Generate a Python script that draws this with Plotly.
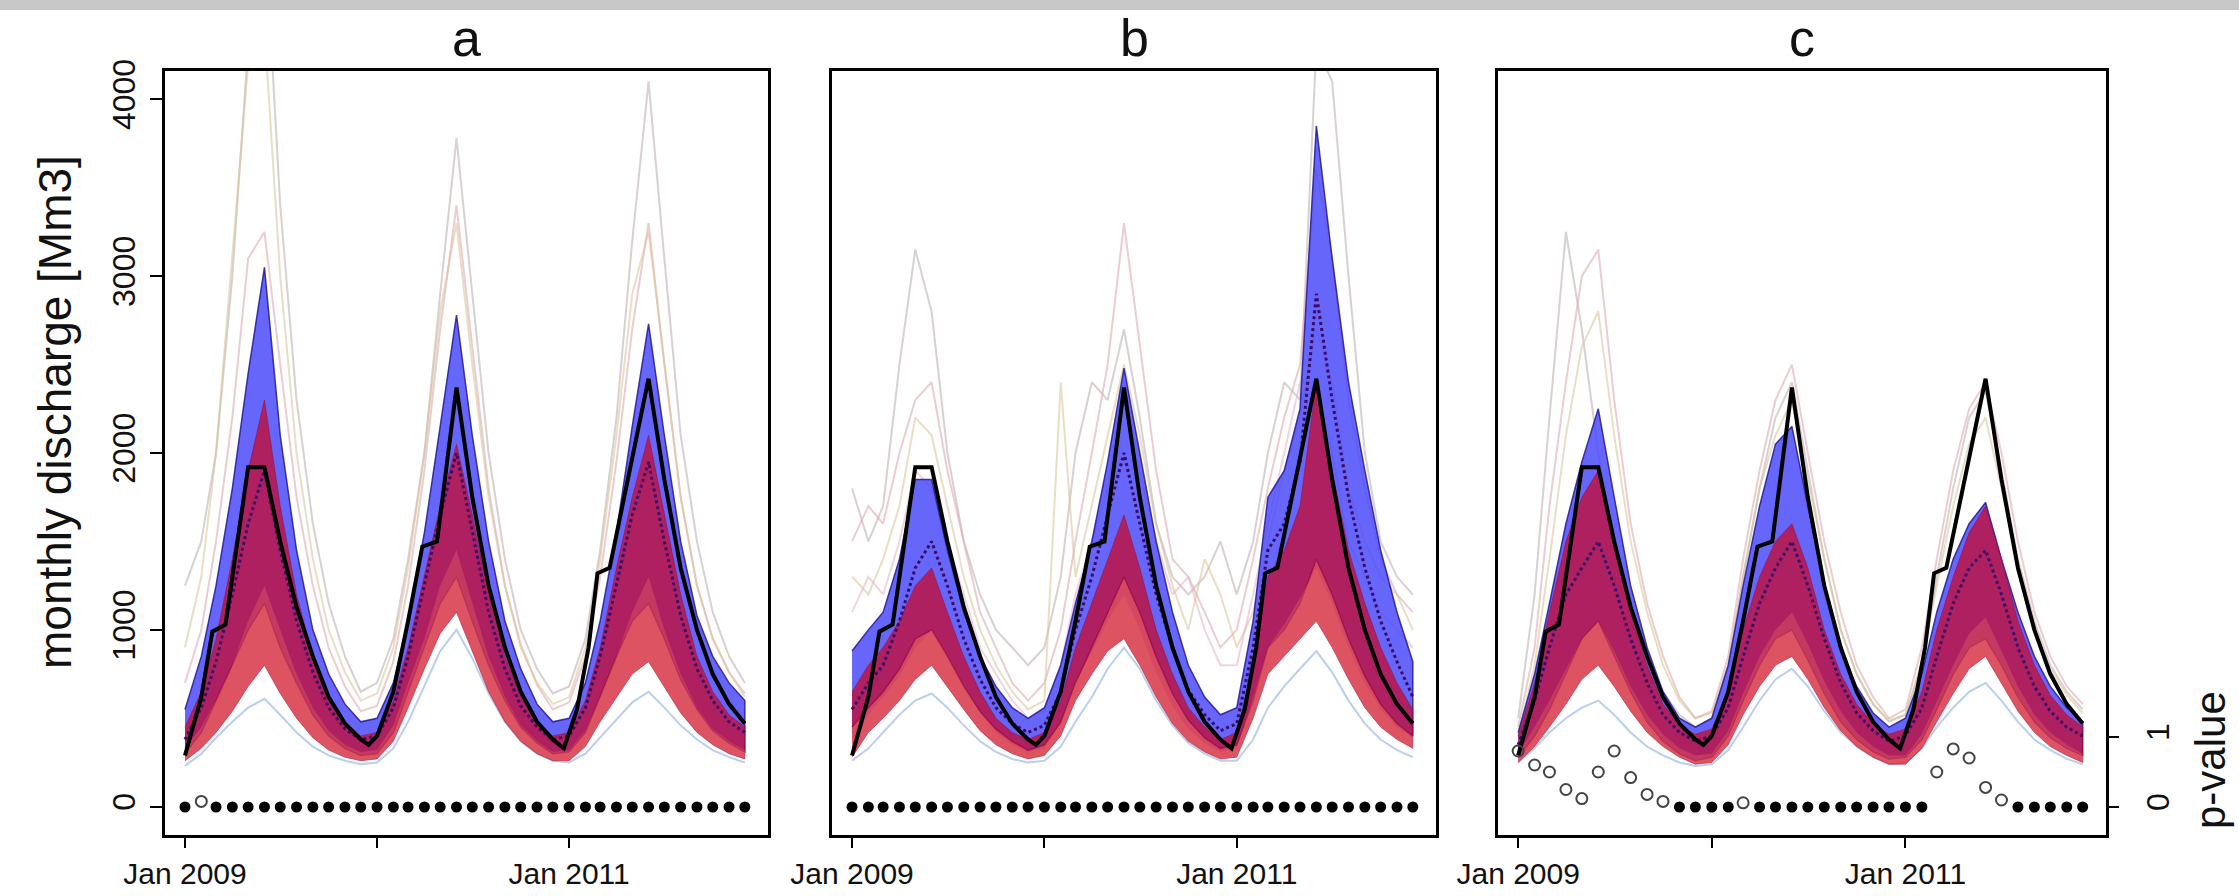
import plotly.graph_objects as go
import pandas as pd

# ---------------- data ----------------
months = pd.date_range("2009-01-01", periods=36, freq="MS")

obs_dates = ["2009-01-01", "2009-02-01", "2009-02-22", "2009-03-19", "2009-05-01", "2009-06-01",
             "2009-07-01", "2009-08-01", "2009-09-01", "2009-10-01", "2009-11-01", "2009-12-01",
             "2009-12-16", "2010-01-01", "2010-02-01", "2010-03-01", "2010-03-28", "2010-04-25",
             "2010-06-01", "2010-07-01", "2010-08-01", "2010-09-01", "2010-10-01", "2010-11-01",
             "2010-12-01", "2010-12-22", "2011-01-16", "2011-02-07", "2011-02-24", "2011-03-19",
             "2011-06-01", "2011-07-01", "2011-08-01", "2011-09-01", "2011-10-01", "2011-11-01",
             "2011-12-01"]
obs_values = [290, 620, 990, 1030, 1920, 1920,
              1500, 1130, 850, 620, 470, 380,
              350, 400, 650, 1050, 1470, 1500,
              2370, 1750, 1250, 900, 650, 480,
              380, 330, 550, 900, 1320, 1350,
              2420, 1850, 1350, 1000, 750, 580,
              470]

# panel a
a_blue_hi = [550, 850, 1250, 1800, 2450, 3050, 2100, 1450, 1000, 750, 580, 480, 500, 700, 1050, 1550, 2150, 2780,
             2100, 1500, 1050, 780, 580, 480, 500, 700, 1050, 1550, 2150, 2730, 2100, 1500, 1080, 850, 700, 600]
a_blue_lo = [300, 420, 600, 800, 1000, 1150, 900, 700, 520, 400, 330, 290, 300, 420, 650, 900, 1150, 1300,
             1050, 800, 600, 450, 360, 300, 310, 420, 620, 850, 1050, 1150, 950, 720, 550, 430, 360, 310]
a_red_hi = [450, 650, 950, 1400, 1900, 2300, 1700, 1200, 850, 620, 480, 400, 420, 600, 900, 1300, 1700, 2050,
            1650, 1200, 850, 620, 480, 400, 420, 600, 900, 1350, 1750, 2100, 1650, 1200, 850, 650, 520, 450]
a_red_lo = [260, 330, 420, 540, 680, 800, 640, 500, 390, 320, 280, 260, 270, 370, 560, 780, 980, 1100,
            880, 650, 480, 370, 300, 260, 260, 340, 480, 620, 750, 820, 680, 530, 420, 350, 300, 270]
a_salmon_hi = [330, 450, 600, 800, 1050, 1250, 1000, 750, 560, 430, 350, 310, 320, 460, 700, 950, 1250, 1450,
               1150, 850, 620, 460, 370, 310, 320, 430, 620, 850, 1100, 1300, 1000, 750, 560, 440, 370, 320]
a_mean = [380, 560, 820, 1200, 1600, 1900, 1450, 1050, 760, 560, 440, 380, 400, 560, 850, 1250, 1650, 2000,
          1550, 1100, 780, 570, 450, 380, 400, 560, 850, 1250, 1650, 1950, 1500, 1080, 780, 600, 480, 420]
a_pval = [0, 0.08] + [0] * 34
a_faint = [
    [1250, 1500, 2000, 3000, 4300, 5000, 3400, 2300, 1600, 1150, 850, 650, 700, 950, 1400, 2000, 2900, 3780,
     2900, 2000, 1400, 1000, 780, 640, 680, 950, 1450, 2200, 3200, 4100, 3100, 2100, 1500, 1100, 850, 700],
    [700, 1000, 1500, 2200, 3100, 3250, 2500, 1750, 1250, 900, 680, 540, 570, 820, 1250, 1900, 2700, 3400,
     2600, 1800, 1250, 920, 690, 550, 590, 850, 1300, 1950, 2700, 3300, 2500, 1750, 1250, 950, 760, 640],
    [900, 1300, 2000, 3100, 4200, 4400, 3000, 2000, 1400, 1000, 760, 600, 640, 900, 1350, 2000, 2800, 3300,
     2500, 1750, 1250, 900, 700, 580, 620, 900, 1400, 2100, 2900, 3250, 2500, 1750, 1250, 950, 760, 620],
    [230, 300, 390, 480, 560, 610, 520, 420, 340, 290, 260, 240, 250, 330, 480, 680, 880, 1000,
     840, 640, 480, 370, 300, 260, 250, 300, 390, 490, 590, 650, 560, 460, 380, 320, 280, 250],
    [330, 480, 700, 950, 1150, 1250, 1000, 760, 560, 430, 350, 300, 310, 450, 700, 1000, 1300, 1500,
     1200, 880, 640, 480, 380, 320, 330, 460, 680, 920, 1150, 1300, 1050, 780, 580, 450, 370, 320],
]

# panel b
b_blue_hi = [880, 1000, 1100, 1400, 1850, 1850, 1450, 1100, 850, 680, 560, 500, 560, 800, 1150, 1500, 1950, 2480,
             2000, 1500, 1100, 800, 620, 520, 560, 1050, 1750, 1900, 2250, 3850, 3100, 2400, 1900, 1450, 1100, 820]
b_blue_lo = [450, 560, 650, 780, 950, 1000, 850, 680, 540, 440, 370, 320, 350, 480, 700, 900, 1100, 1300,
             1100, 850, 640, 490, 390, 330, 350, 600, 900, 1000, 1150, 1400, 1200, 950, 740, 580, 470, 400]
b_red_hi = [650, 800, 900, 1050, 1250, 1350, 1100, 850, 650, 500, 420, 380, 420, 600, 900, 1150, 1400, 1650,
            1350, 1000, 750, 560, 450, 380, 420, 800, 1300, 1450, 1700, 2400, 1900, 1450, 1150, 900, 700, 550]
b_red_lo = [280, 420, 500, 600, 720, 800, 680, 550, 430, 350, 300, 270, 290, 400, 600, 750, 880, 950,
            800, 620, 470, 370, 310, 270, 280, 500, 750, 850, 950, 1050, 900, 720, 560, 450, 380, 330]
b_salmon_hi = [380, 520, 620, 740, 900, 1000, 850, 680, 530, 420, 350, 310, 330, 470, 700, 880, 1050, 1200,
               1000, 760, 570, 440, 360, 310, 330, 620, 900, 1030, 1180, 1350, 1150, 900, 700, 550, 450, 390]
b_mean = [550, 700, 800, 1050, 1350, 1500, 1250, 950, 720, 560, 470, 420, 460, 650, 1000, 1300, 1650, 2000,
          1600, 1200, 900, 660, 520, 430, 470, 900, 1450, 1600, 1950, 2900, 2300, 1750, 1350, 1050, 820, 620]
b_pval = [0] * 36
b_faint = [
    [1800, 1500, 1700, 2500, 3150, 2800, 2000, 1500, 1200, 1000, 900, 800, 900, 1300, 2000, 2400, 2300, 2700,
     2200, 1600, 1300, 1200, 1300, 1500, 1200, 1500, 2000, 2400, 2300, 4300, 4100, 3000, 2000, 1500, 1300, 1200],
    [1500, 1700, 1600, 2000, 2300, 2400, 1900, 1500, 1100, 900, 700, 600, 700, 1000, 1500, 2000, 2500, 3300,
     2600, 1900, 1400, 1300, 1100, 900, 1000, 1400, 1800, 2200, 2500, 3600, 3100, 2300, 1800, 1400, 1200, 1100],
    [1300, 1200, 1400, 1700, 2200, 2100, 1700, 1300, 1000, 800, 650, 550, 600, 2400, 1300, 1700, 2100, 2500,
     2100, 1600, 1250, 1000, 1400, 1200, 900, 1100, 1500, 1900, 2200, 2700, 2400, 1800, 1500, 1300, 1200, 1000],
    [260, 330, 420, 520, 600, 640, 560, 460, 370, 310, 270, 250, 260, 340, 480, 620, 780, 900,
     780, 600, 460, 360, 300, 260, 260, 380, 560, 680, 780, 880, 760, 600, 470, 380, 320, 280],
    [1100, 1300, 1200, 1500, 1900, 1800, 1500, 1200, 900, 750, 600, 500, 550, 800, 1200, 1500, 1800, 2400,
     1900, 1500, 1200, 1300, 1000, 800, 800, 1200, 1600, 2000, 2400, 2400, 2000, 1500, 1300, 1100, 1000, 900],
]

# panel c
c_blue_hi = [420, 750, 1150, 1600, 1950, 2250, 1750, 1250, 900, 650, 500, 450, 500, 800, 1250, 1700, 2050, 2150,
             1700, 1250, 900, 680, 530, 450, 500, 750, 1100, 1400, 1600, 1720, 1400, 1100, 850, 680, 560, 480]
c_blue_lo = [280, 400, 550, 750, 950, 1050, 850, 650, 480, 370, 300, 260, 280, 400, 600, 800, 950, 1000,
             830, 640, 480, 380, 310, 270, 280, 380, 550, 750, 900, 950, 800, 620, 480, 390, 330, 290]
c_red_hi = [400, 700, 1100, 1500, 1750, 1900, 1500, 1100, 800, 580, 460, 410, 440, 650, 1000, 1300, 1500, 1600,
            1350, 1000, 750, 580, 470, 410, 440, 650, 1000, 1300, 1550, 1700, 1400, 1050, 800, 630, 520, 450]
c_red_lo = [250, 340, 450, 580, 720, 800, 680, 540, 420, 340, 280, 240, 250, 350, 520, 680, 800, 850,
            720, 560, 430, 340, 280, 240, 240, 330, 480, 640, 780, 850, 700, 540, 420, 340, 290, 250]
c_salmon_hi = [300, 450, 600, 780, 950, 1050, 880, 680, 520, 410, 330, 290, 300, 430, 640, 850, 1000, 1100,
               920, 710, 540, 420, 340, 290, 290, 410, 600, 800, 980, 1070, 880, 680, 520, 420, 350, 300]
c_mean = [350, 600, 900, 1200, 1350, 1500, 1250, 950, 700, 520, 420, 370, 400, 560, 850, 1150, 1350, 1500,
          1250, 950, 700, 530, 430, 370, 400, 560, 850, 1150, 1350, 1450, 1200, 900, 680, 540, 450, 400]
c_pval = [0.8, 0.6, 0.5, 0.25, 0.12, 0.5, 0.8, 0.42, 0.18, 0.08, 0, 0, 0, 0, 0.06,
          0, 0, 0, 0, 0, 0, 0, 0, 0, 0, 0, 0.5, 0.83, 0.7, 0.28, 0.1, 0, 0, 0, 0, 0]
c_faint = [
    [500, 1200, 2200, 3250, 2700, 2000, 1500, 1100, 850, 650, 520, 450, 500, 800, 1300, 1800, 2200, 2400,
     1900, 1400, 1000, 750, 580, 480, 520, 800, 1300, 1800, 2200, 2350, 1900, 1400, 1050, 800, 650, 550],
    [450, 900, 1700, 2400, 3000, 3150, 2300, 1600, 1150, 850, 620, 500, 540, 850, 1400, 1900, 2300, 2500,
     2000, 1500, 1100, 800, 620, 500, 550, 900, 1400, 1900, 2250, 2400, 2000, 1500, 1100, 850, 680, 580],
    [400, 800, 1400, 2100, 2600, 2800, 2100, 1500, 1100, 800, 600, 500, 530, 800, 1300, 1800, 2100, 2300,
     1850, 1400, 1000, 750, 580, 490, 520, 820, 1250, 1700, 2050, 2200, 1800, 1350, 1000, 780, 630, 530],
    [250, 330, 420, 500, 560, 600, 520, 420, 340, 290, 250, 230, 240, 320, 450, 600, 720, 780,
     680, 540, 420, 340, 280, 240, 250, 330, 450, 560, 650, 700, 600, 480, 380, 320, 270, 240],
]

panel_titles = ["a", "b", "c"]
x_tickvals = ["2009-01-01", "2010-01-01", "2011-01-01"]
x_ticktext = ["Jan 2009", "", "Jan 2011"]
y_tickvals = [0, 1000, 2000, 3000, 4000]
p_tickvals = [0, 1]

# ---------------- styling ----------------
W, H = 2239, 896
FONT = "Liberation Sans, Arial, Helvetica, sans-serif"
faint_colors = ["rgba(185,170,170,0.55)", "rgba(225,170,175,0.6)", "rgba(215,195,150,0.55)",
                "rgba(150,180,230,0.65)", "rgba(230,175,200,0.55)"]
BLUE = "rgba(75,75,250,0.85)"
BLUE_EDGE = "rgba(35,25,150,0.85)"
RED = "rgba(200,10,45,0.75)"
SALMON = "rgba(240,110,100,0.33)"

x_domains = [[165 / W, 768 / W], [832 / W, 1436 / W], [1498 / W, 2106 / W]]
y_domain = [1 - 835 / H, 1 - 71 / H]

fig = go.Figure()

panels = [
    (a_blue_hi, a_blue_lo, a_red_hi, a_red_lo, a_salmon_hi, a_mean, a_pval, a_faint),
    (b_blue_hi, b_blue_lo, b_red_hi, b_red_lo, b_salmon_hi, b_mean, b_pval, b_faint),
    (c_blue_hi, c_blue_lo, c_red_hi, c_red_lo, c_salmon_hi, c_mean, c_pval, c_faint),
]

mlist = list(months)
poly_x = mlist + mlist[::-1]

for i, (bh, bl, rh, rl, sh, mn, pv, faint) in enumerate(panels):
    xa = "x" if i == 0 else f"x{i+1}"
    ya = "y" if i == 0 else f"y{i+1}"
    yp = f"y{i+4}"
    common = dict(xaxis=xa, yaxis=ya, showlegend=False, hoverinfo="skip")
    for k, f in enumerate(faint):
        fig.add_trace(go.Scatter(x=months, y=f, mode="lines",
                                 line=dict(color=faint_colors[k % len(faint_colors)], width=2), **common))
    # blue ensemble
    fig.add_trace(go.Scatter(x=poly_x, y=bh + bl[::-1], mode="lines", fill="toself", fillcolor=BLUE,
                             line=dict(color=BLUE_EDGE, width=1.5), **common))
    # red ensemble
    fig.add_trace(go.Scatter(x=poly_x, y=rh + rl[::-1], mode="lines", fill="toself", fillcolor=RED,
                             line=dict(color="rgba(150,10,50,0.5)", width=1), **common))
    # lighter core of the red ensemble
    fig.add_trace(go.Scatter(x=poly_x, y=sh + rl[::-1], mode="lines", fill="toself", fillcolor=SALMON,
                             line=dict(width=0), **common))
    # ensemble mean (dotted)
    fig.add_trace(go.Scatter(x=months, y=mn, mode="lines",
                             line=dict(color="#3a0c66", width=3, dash="dot"), **common))
    # observed
    fig.add_trace(go.Scatter(x=obs_dates, y=obs_values, mode="lines",
                             line=dict(color="black", width=4), **common))
    # p-values
    filled_x = [m for m, p in zip(mlist, pv) if p < 0.05]
    filled_y = [p for p in pv if p < 0.05]
    open_x = [m for m, p in zip(mlist, pv) if p >= 0.05]
    open_y = [p for p in pv if p >= 0.05]
    fig.add_trace(go.Scatter(x=filled_x, y=filled_y, mode="markers",
                             marker=dict(symbol="circle", size=11, color="black"),
                             xaxis=xa, yaxis=yp, showlegend=False, hoverinfo="skip"))
    fig.add_trace(go.Scatter(x=open_x, y=open_y, mode="markers",
                             marker=dict(symbol="circle-open", size=11, color="#444", line=dict(width=2)),
                             xaxis=xa, yaxis=yp, showlegend=False, hoverinfo="skip"))

tickfont = dict(family=FONT, size=32, color="#111")
xtickfont = dict(family=FONT, size=30, color="#111")
xr = ["2008-11-24", "2012-01-14"]
yr = [-160, 4160]
pr = [-0.4, 10.514]

layout = dict(
    width=W, height=H, margin=dict(l=0, r=0, t=0, b=0, autoexpand=False),
    paper_bgcolor="white", plot_bgcolor="white",
    font=dict(family=FONT, color="#111"),
)
for i in range(3):
    xk = "xaxis" if i == 0 else f"xaxis{i+1}"
    yk = "yaxis" if i == 0 else f"yaxis{i+1}"
    ya = "y" if i == 0 else f"y{i+1}"
    xa = "x" if i == 0 else f"x{i+1}"
    layout[xk] = dict(domain=x_domains[i], range=xr, type="date", anchor=ya, automargin=False,
                      showline=True, mirror=True, linecolor="black", linewidth=3,
                      ticks="outside", ticklen=10, tickwidth=2, tickcolor="black",
                      tickvals=x_tickvals, ticktext=x_ticktext, tickfont=xtickfont,
                      ticklabelstandoff=0,
                      showgrid=False, zeroline=False)
    yd = dict(domain=y_domain, range=yr, anchor=xa, automargin=False,
              showline=True, mirror=True, linecolor="black", linewidth=3,
              showgrid=False, zeroline=False)
    if i == 0:
        yd.update(ticks="outside", ticklen=12, tickwidth=2, tickcolor="black",
                  tickvals=y_tickvals, tickangle=-90, tickfont=tickfont, ticklabelstandoff=2)
    else:
        yd.update(ticks="", showticklabels=False)
    layout[yk] = yd
    pk = f"yaxis{i+4}"
    pd_ = dict(overlaying=ya, anchor=xa, range=pr, showgrid=False, zeroline=False, automargin=False)
    if i == 2:
        pd_.update(side="right", showline=False, ticks="outside", ticklen=12, tickwidth=2,
                   tickcolor="black", tickvals=p_tickvals, tickangle=-90, tickfont=tickfont,
                   ticklabelstandoff=12)
    else:
        pd_.update(visible=False)
    layout[pk] = pd_

annotations = []
for i, t in enumerate(panel_titles):
    annotations.append(dict(text=t, x=sum(x_domains[i]) / 2, y=1 - 38 / H, xref="paper", yref="paper",
                            showarrow=False, font=dict(family=FONT, size=52, color="#111"),
                            xanchor="center", yanchor="middle"))
annotations.append(dict(text="monthly discharge [Mm3]", x=55 / W, y=1 - 412 / H, xref="paper",
                        yref="paper", showarrow=False, textangle=-90,
                        font=dict(family=FONT, size=46, color="#111"), xanchor="center", yanchor="middle"))
annotations.append(dict(text="p-value", x=2210 / W, y=1 - 760 / H, xref="paper", yref="paper",
                        showarrow=False, textangle=-90,
                        font=dict(family=FONT, size=42, color="#111"), xanchor="center", yanchor="middle"))
layout["annotations"] = annotations
layout["shapes"] = [dict(type="rect", xref="paper", yref="paper", x0=0, x1=1, y0=1 - 10 / H, y1=1,
                         fillcolor="#c8c8c8", line=dict(width=0), layer="below")]

fig.update_layout(**layout)
fig.write_html("out.html")
